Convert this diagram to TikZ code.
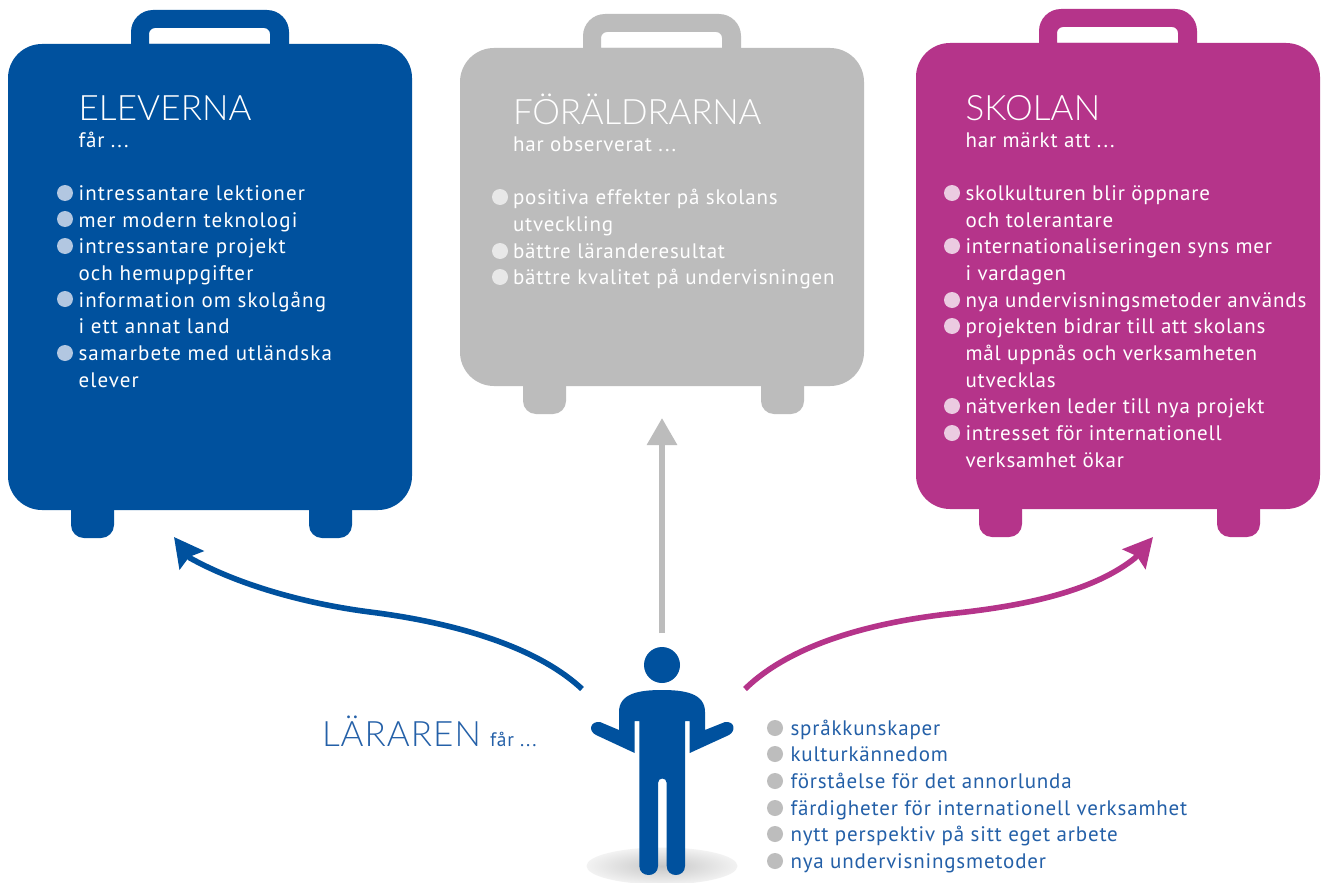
\documentclass[tikz,border=0pt]{standalone}
\usepackage{fontspec}
\setmainfont{PT Sans}[LetterSpace=3.9]
\newfontfamily\bluefont{PT Sans}[LetterSpace=5.4]
\newfontfamily\ttlfont{Lato Light}[LetterSpace=0.4]
\newfontfamily\ttlnarrow{Lato Light}[LetterSpace=-0.6]
\newfontfamily\ttlwide{Lato Light}[LetterSpace=2.9]
\usetikzlibrary{arrows.meta,shapes.geometric}
\definecolor{cblue}{HTML}{00519E}
\definecolor{cgray}{HTML}{BCBCBC}
\definecolor{cmag}{HTML}{B5348A}
\definecolor{lblue}{HTML}{B2C7E1}
\definecolor{lgray}{HTML}{E8E8E8}
\definecolor{lmag}{HTML}{EBCBE1}
\definecolor{ttext}{HTML}{2460A8}
\definecolor{tbul}{HTML}{BDBDBD}
\tikzset{
  x=1pt,y=-1pt,
  txt/.style={anchor=base west,inner sep=0pt,outer sep=0pt,font=\fontsize{21}{21}\selectfont},
  bluetxt/.style={anchor=base west,inner sep=0pt,outer sep=0pt,font=\bluefont\fontsize{21}{21}\selectfont},
  ttl/.style={anchor=base west,inner sep=0pt,outer sep=0pt,font=\ttlfont\fontsize{35}{35}\selectfont},
  sub/.style={anchor=base west,inner sep=0pt,outer sep=0pt,font=\fontsize{21}{21}\selectfont},
  bul/.style={circle,inner sep=0pt,outer sep=0pt,minimum size=16pt},
  curve/.style={line width=5.6pt,line join=round,-{Stealth[length=29pt,width=30pt,inset=4pt]}},
}
% #1 name, #2 left x, #3 body top, #4 body bottom, #5 colour
\newcommand{\suitcase}[5]{%
  \fill[#5,even odd rule]
    (#2+123,#3+1) [rounded corners=22pt] -- (#2+123,#3-34) -- (#2+281,#3-34) [sharp corners] -- (#2+281,#3+1) -- cycle
    (#2+141,#3) [rounded corners=6pt] -- (#2+141,#3-16) -- (#2+262,#3-16) [sharp corners] -- (#2+262,#3) -- cycle;
  \fill[#5] (#2+63,#4-2) [rounded corners=13pt] -- (#2+63,#4+28) -- (#2+106,#4+28) [sharp corners] -- (#2+106,#4-2) -- cycle;
  \fill[#5] (#2+301,#4-2) [rounded corners=13pt] -- (#2+301,#4+28) -- (#2+344,#4+28) [sharp corners] -- (#2+344,#4-2) -- cycle;
  \pgfmathsetmacro{\hh}{(#4)-(#3)}
  \node[fill=#5,draw=none,rounded corners=34pt,minimum width=404pt,minimum height=\hh pt,inner sep=0pt,outer sep=0pt,anchor=north west] (#1) at (#2,#3) {};
}
\begin{document}
\begin{tikzpicture}
\useasboundingbox (0,0) rectangle (1322,883);
\fill[white] (0,0) rectangle (1322,883);

\suitcase{blue}{8}{44}{510}{cblue}
\suitcase{grey}{460}{48}{386}{cgray}
\suitcase{mag}{916}{43}{509}{cmag}

% ELEVERNA
\node[ttl,text=white] (t1) at (78.5,120) {ELEVERNA};
\node[sub,text=white] (s1) at (78.5,147) {får ...};
\foreach \i/\yy/\tx in {a/200/intressantare lektioner,b/227/mer modern teknologi,c/253/intressantare projekt,d/280/och hemuppgifter,e/307/information om skolgång,f/333/i ett annat land,g/360/samarbete med utländska,h/387/elever}
  {\node[bluetxt,text=white] (b\i) at (78.5,\yy) {\tx};}
\foreach \i/\yy in {a/193,b/219,c/246,e/299,g/353}
  {\node[bul,fill=lblue] (bb\i) at (65,\yy) {};}
% FORALDRARNA
\node[ttl,text=white,font=\ttlnarrow\fontsize{35}{35}\selectfont] (t2) at (513,124) {FÖRÄLDRARNA};
\node[sub,text=white] (s2) at (513,151) {har observerat ...};
\foreach \i/\yy/\tx in {a/204/positiva effekter på skolans,b/231/utveckling,c/258/bättre läranderesultat,d/284/bättre kvalitet på undervisningen}
  {\node[txt,text=white] (g\i) at (513,\yy) {\tx};}
\foreach \i/\yy in {a/197,c/251,d/277}
  {\node[bul,fill=lgray] (gb\i) at (500,\yy) {};}
% SKOLAN
\node[ttl,text=white] (t3) at (965.5,120) {SKOLAN};
\node[sub,text=white] (s3) at (965.5,147) {har märkt att ...};
\foreach \i/\yy/\tx in {a/200/skolkulturen blir öppnare,b/227/och tolerantare,c/253/internationaliseringen syns mer,d/280/i vardagen,e/307/nya undervisningsmetoder används,f/333/projekten bidrar till att skolans,g/360/mål uppnås och verksamheten,h/387/utvecklas,i/413/nätverken leder till nya projekt,j/440/intresset för internationell,k/467/verksamhet ökar}
  {\node[txt,text=white] (m\i) at (965.5,\yy) {\tx};}
\foreach \i/\yy in {a/193,c/246,e/300,f/326,i/406,j/433}
  {\node[bul,fill=lmag] (mb\i) at (952,\yy) {};}

% teacher text
\node[ttl,text=ttext,font=\ttlwide\fontsize{35}{35}\selectfont] (lt) at (322,746) {LÄRAREN};
\node[sub,text=ttext,font=\fontsize{19.5}{20}\selectfont] (lf) at (490,746) {får ...};
\foreach \i/\yy/\tx in {a/735/språkkunskaper,b/761/kulturkännedom,c/788/förståelse för det annorlunda,d/815/färdigheter för internationell verksamhet,e/841/nytt perspektiv på sitt eget arbete,f/868/nya undervisningsmetoder}
  {\node[txt,text=ttext] (l\i) at (790.5,\yy) {\tx};}
\foreach \i/\yy in {a/728,b/754,c/781,d/808,e/834,f/861}
  {\node[bul,fill=tbul] (lb\i) at (775,\yy) {};}

% shadow
\begin{scope}
\clip (560,840) rectangle (770,883);
\node[ellipse,minimum width=151pt,minimum height=37pt,inner sep=0pt,outer sep=0pt,inner color=black!22,outer color=black!5] (shadow) at (662,866) {};
\end{scope}

% person
\fill[cblue] (662,665) circle[radius=18];
\fill[cblue] (639.3,862) -- (639.3,721) -- (634.7,721) -- (634.7,753) -- (596,735)
  .. controls (588,731) and (590,721) .. (600,722) -- (619,730) -- (619,712)
  .. controls (619,693) and (640,690) .. (662,690) .. controls (684,690) and (705,693) .. (705,712)
  -- (705,730) -- (725,722) .. controls (735,721) and (736,731) .. (729,735)
  -- (689.7,753) -- (689.7,721) -- (685,721) -- (685,866)
  .. controls (685,878) and (666.7,878) .. (666.7,866) -- (666.7,783)
  .. controls (666.7,777) and (658,777) .. (658,783) -- (658,866)
  .. controls (658,878) and (639.3,878) .. (639.3,866) -- cycle;

% connectors
\coordinate (bs) at (582,689);
\coordinate (bm) at (370,612);
\coordinate (be) at (190,558);
\coordinate (bt) at (174,537);
\coordinate (ms) at (745,689);
\coordinate (mm) at (957,613);
\coordinate (me) at (1135,558);
\coordinate (mt) at (1153,537);
\coordinate (gs) at (662,633);
\coordinate (gt) at (662,418);
\draw[cblue,curve] (bs) .. controls (535,645) and (450,622) .. (bm)
  .. controls (300,603) and (235,583) .. (be) -- (bt);
\draw[cmag,curve] (ms) .. controls (790,645) and (870,622) .. (mm)
  .. controls (1030,605) and (1095,590) .. (me) -- (mt);
\draw[cgray,line width=6pt,-{Triangle[length=27pt,width=29pt]}] (gs) -- (gt);
\end{tikzpicture}
\end{document}
